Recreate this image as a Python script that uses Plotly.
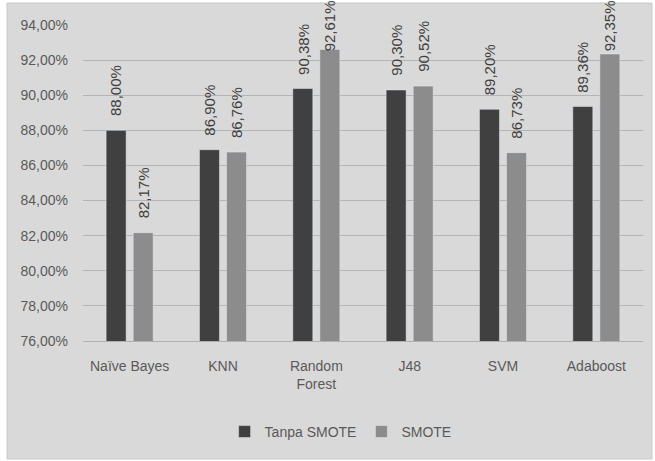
import plotly.graph_objects as go

# Accuracy of each classifier, with and without SMOTE oversampling
categories = ["Naïve Bayes", "KNN", "Random<br>Forest", "J48", "SVM", "Adaboost"]
tanpa_smote = [88.00, 86.90, 90.38, 90.30, 89.20, 89.36]
smote = [82.17, 86.76, 92.61, 90.52, 86.73, 92.35]
y_ticks = [76, 78, 80, 82, 84, 86, 88, 90, 92, 94]

FONT = "Liberation Sans"
TEXT_COLOR = "#595959"
BG = "#d9d9d9"

Y_MIN, Y_MAX = 76, 94
MARGIN_T, PLOT_H = 25, 316
PX_PER_UNIT = PLOT_H / (Y_MAX - Y_MIN)
LABEL_LEN = 51      # approximate rotated label length in px
LABEL_GAP = 12      # space between bar top and its label


def pct(v):
    return f"{v:.2f}".replace(".", ",") + "%"


series = [("Tanpa SMOTE", tanpa_smote, "#404040", -13.5),
          ("SMOTE", smote, "#8c8c8c", 13.5)]

fig = go.Figure()
for name, vals, color, _ in series:
    fig.add_trace(go.Bar(name=name, x=categories, y=vals, marker_color=color))

# rotated value labels above each bar, kept inside the page
for name, vals, color, dx in series:
    for cat, v in zip(categories, vals):
        room = MARGIN_T + (Y_MAX - v) * PX_PER_UNIT - LABEL_LEN - 2
        fig.add_annotation(
            x=cat, y=v, xref="x", yref="y", text=pct(v), showarrow=False,
            textangle=-90, xanchor="center", yanchor="bottom",
            xshift=dx, yshift=min(LABEL_GAP, room),
            font=dict(family=FONT, size=15, color="#404040"),
        )

# framed grey chart area
fig.add_shape(type="rect", xref="paper", yref="paper",
              x0=-0.1357, x1=1.016, y0=-0.3734, y1=1.0696,
              fillcolor=BG, line=dict(color="#c8c8c8", width=1), layer="below")

fig.update_layout(
    width=655, height=461,
    margin=dict(l=83, r=12, t=MARGIN_T, b=120),
    paper_bgcolor="white", plot_bgcolor="rgba(0,0,0,0)",
    barmode="group", bargap=0.42, bargroupgap=0.26,
    font=dict(family=FONT, size=14, color=TEXT_COLOR),
    legend=dict(orientation="h", x=0.46, xanchor="center", y=-0.288,
                yanchor="middle", font=dict(size=14, color=TEXT_COLOR),
                itemwidth=30, bgcolor="rgba(0,0,0,0)"),
    xaxis=dict(showline=True, linecolor="#b0b0b0", ticks="",
               ticklabelstandoff=12,
               tickfont=dict(size=14, color=TEXT_COLOR)),
    yaxis=dict(range=[Y_MIN, Y_MAX], tickvals=y_ticks,
               ticktext=[f"{t},00%" for t in y_ticks],
               showgrid=True, gridcolor="#b4b4b4", gridwidth=1,
               zeroline=False, ticks="", ticklabelstandoff=14,
               tickfont=dict(size=14, color=TEXT_COLOR)),
)

fig.write_html("out.html")
